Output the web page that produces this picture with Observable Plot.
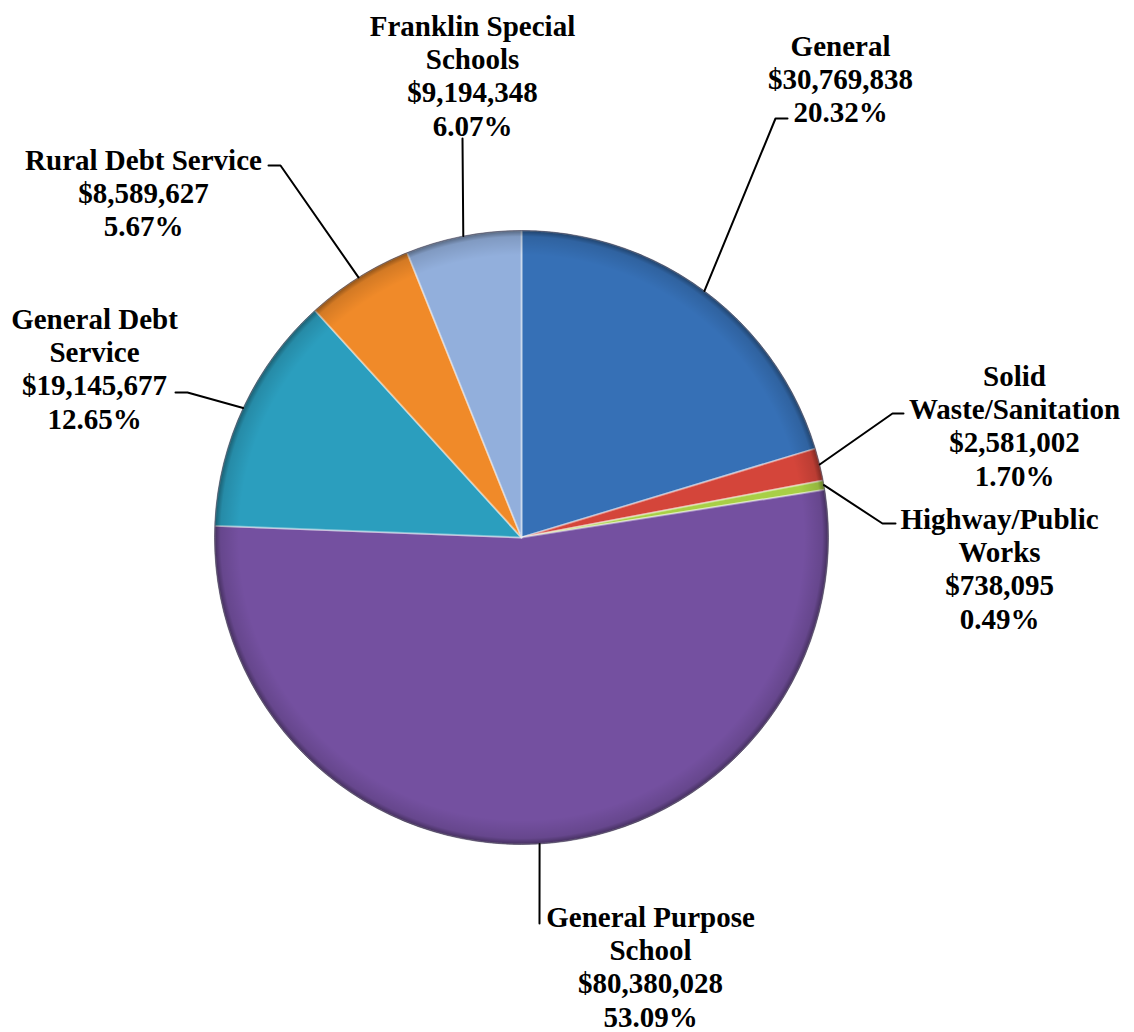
<!DOCTYPE html>
<html>
<head>
<meta charset="utf-8">
<script src="https://cdn.jsdelivr.net/npm/d3@7"></script>
<script src="https://cdn.jsdelivr.net/npm/@observablehq/plot@0.6"></script>
<style>
  html, body { margin: 0; padding: 0; background: #ffffff; }
  #chart { width: 1134px; height: 1032px; }
</style>
</head>
<body>
<div id="chart"></div>
<script>
// ---- Data ----
const categories = ["General", "Solid Waste/Sanitation", "Highway/Public Works", "General Purpose School", "General Debt Service", "Rural Debt Service", "Franklin Special Schools"];
const amounts = [30769838, 2581002, 738095, 80380028, 19145677, 8589627, 9194348];
const colors = ["#3670b6", "#d4453a", "#a8cf46", "#7450a0", "#2b9ebe", "#f08a29", "#92afdc"];

// ---- Layout (pixel space) ----
const W = 1134, H = 1032;
const pieGeom = {cx: 521, cy: 537, r: 307};
const fontSize = 29, lineStep = 33.4;
const labelLines = [
  ["General"],
  ["Solid", "Waste/Sanitation"],
  ["Highway/Public", "Works"],
  ["General Purpose", "School"],
  ["General Debt", "Service"],
  ["Rural Debt Service"],
  ["Franklin Special", "Schools"]
];
const labelX = [840, 1014, 999, 650, 94, 143, 472];
const labelBase = [52, 382, 525, 923, 325, 166, 32];
const leaderBends = [
  [[775, 118], [787, 118]],
  [[892, 413], [903, 413]],
  [[882, 523], [895, 523]],
  [[539, 923]],
  [[187, 392], [175, 392]],
  [[280, 165], [268, 165]],
  [[462, 138]]
];

// ---- Derived ----
const total = d3.sum(amounts);
const rows = categories.map((c, i) => ({name: c, value: amounts[i], color: colors[i], i}));
const arcs = d3.pie().sort(null).value(d => d.value).startAngle(0).endAngle(2 * Math.PI)(rows);
const polar = (a, r) => [pieGeom.cx + r * Math.sin(a), pieGeom.cy - r * Math.cos(a)];

const slicePts = [];
arcs.forEach(a => {
  slicePts.push({x: pieGeom.cx, y: pieGeom.cy, name: a.data.name, color: a.data.color});
  const n = Math.max(4, Math.ceil((a.endAngle - a.startAngle) / (Math.PI / 720)));
  for (let k = 0; k <= n; k++) {
    const t = a.startAngle + (a.endAngle - a.startAngle) * k / n;
    const [x, y] = polar(t, pieGeom.r);
    slicePts.push({x, y, name: a.data.name, color: a.data.color});
  }
});

const fmtMoney = d3.format("$,");
const fmtPct = v => (v * 100).toFixed(2) + "%";
const labels = arcs.map((a, i) => {
  const lines = [...labelLines[i], fmtMoney(a.data.value), fmtPct(a.data.value / total)];
  return {text: lines.join("\n"), x: labelX[i], y: labelBase[i] - 0.71 * fontSize};
});

const leaderPts = [];
arcs.forEach((a, i) => {
  const mid = (a.startAngle + a.endAngle) / 2;
  const [x0, y0] = polar(mid, pieGeom.r);
  leaderPts.push({x: x0, y: y0, k: i});
  leaderBends[i].forEach(([x, y]) => leaderPts.push({x, y, k: i}));
});

const defs = () => {
  const svgNS = "http://www.w3.org/2000/svg";
  const g = document.createElementNS(svgNS, "defs");
  g.innerHTML = `
    <radialGradient id="rimShade" cx="50%" cy="50%" r="50%">
      <stop offset="0" stop-color="#000" stop-opacity="0"/>
      <stop offset="0.92" stop-color="#000" stop-opacity="0"/>
      <stop offset="0.98" stop-color="#000" stop-opacity="0.12"/>
      <stop offset="1" stop-color="#000" stop-opacity="0.42"/>
    </radialGradient>`;
  return g;
};

const chart = Plot.plot({
  width: W,
  height: H,
  margin: 0,
  x: {domain: [0, W], range: [0, W], axis: null},
  y: {domain: [0, H], range: [0, H], axis: null},
  color: {type: "identity"},
  style: {background: "#ffffff", fontFamily: "'Liberation Serif', 'Times New Roman', serif"},
  marks: [
    defs,
    Plot.line(slicePts, {
      x: "x", y: "y", z: "name", fill: "color",
      curve: "linear-closed",
      stroke: "#ffffff", strokeOpacity: 0.4, strokeWidth: 2, strokeLinejoin: "round"
    }),
    Plot.dot([pieGeom], {x: "cx", y: "cy", r: pieGeom.r, fill: "url(#rimShade)", stroke: "#2a2340", strokeOpacity: 0.5, strokeWidth: 1}),
    Plot.line(leaderPts, {x: "x", y: "y", z: "k", stroke: "#000000", strokeWidth: 2, curve: "linear"}),
    Plot.text(labels, {
      x: "x", y: "y", text: "text",
      textAnchor: "middle", lineAnchor: "top",
      lineHeight: lineStep / fontSize,
      fontSize: fontSize, fontWeight: "bold", fill: "#000000"
    })
  ]
});

document.getElementById("chart").appendChild(chart);
</script>
</body>
</html>
